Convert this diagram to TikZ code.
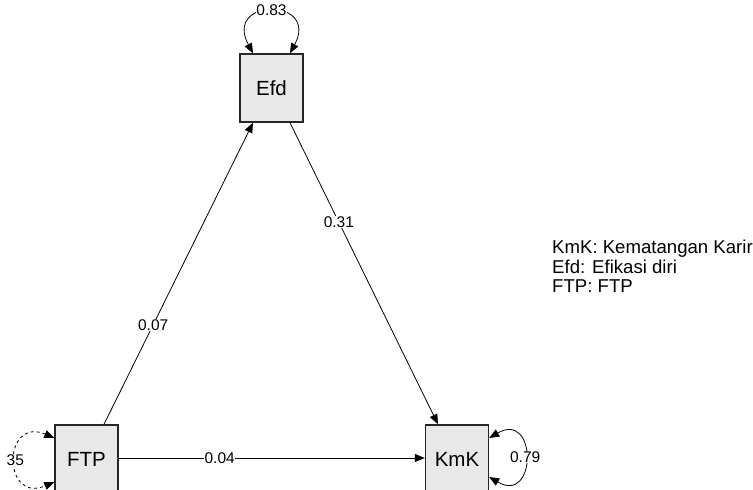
\documentclass[tikz,border=0pt]{standalone}
\usepackage{fontspec}
\setmainfont{Liberation Sans}
\usetikzlibrary{arrows.meta}
\begin{document}
\begin{tikzpicture}[x=1pt,y=-1pt,
  varbox/.style={draw=black!85,line width=1.4pt,fill=black!9,minimum width=63pt,minimum height=68pt,inner sep=0pt,font=\fontsize{20.5}{23}\selectfont},
  conn/.style={line width=0.8pt,-{Triangle[length=10pt,width=8pt]}},
  loopc/.style={line width=0.8pt,{Triangle[length=10pt,width=8pt]}-{Triangle[length=10pt,width=8pt]}},
  coef/.style={fill=white,inner sep=0.3pt,font=\fontsize{15.5}{17}\selectfont},
  legend/.style={align=left,anchor=north west,inner sep=0pt,font=\fontsize{18.6}{19.5}\selectfont}
]
\useasboundingbox (0,0) rectangle (753,490);
\node[varbox] (efd) at (271.5,88) {Efd};
\node[varbox] (ftp) at (86.5,459) {FTP};
\node[varbox] (kmk) at (457,459) {KmK};

\draw[conn] ([xshift=17.5pt]ftp.north) -- node[coef,pos=0.33] (l07) {0.07} ([xshift=-18.5pt]efd.south);
\draw[conn] ([xshift=18.5pt]efd.south) -- node[coef,pos=0.33] (l31) {0.31} ([xshift=-19pt]kmk.north);
\draw[conn] (ftp.east |- 0,458) -- node[coef,pos=0.33] (l04) {0.04} (kmk.west |- 0,458);

\draw[loopc] ([xshift=18.5pt]efd.north) .. controls +(30,-56) and +(-30,-56) .. node[coef,pos=0.5,yshift=1pt] (l83) {0.83} ([xshift=-18.5pt]efd.north);
\draw[loopc] ([yshift=21pt]kmk.east) .. controls +(48,-28) and +(48,28) .. node[coef,pos=0.5] (l79) {0.79} ([yshift=-18pt]kmk.east);
\draw[loopc,dashed] ([yshift=21pt]ftp.west) .. controls +(-52,-22) and +(-52,22) .. node[coef,pos=0.5] (l35) {35} ([yshift=-23pt]ftp.west);

\node[legend] (leg) at (552,240) {KmK: Kematangan Karir\\Efd: Efikasi diri\\FTP: FTP};
\end{tikzpicture}
\end{document}
